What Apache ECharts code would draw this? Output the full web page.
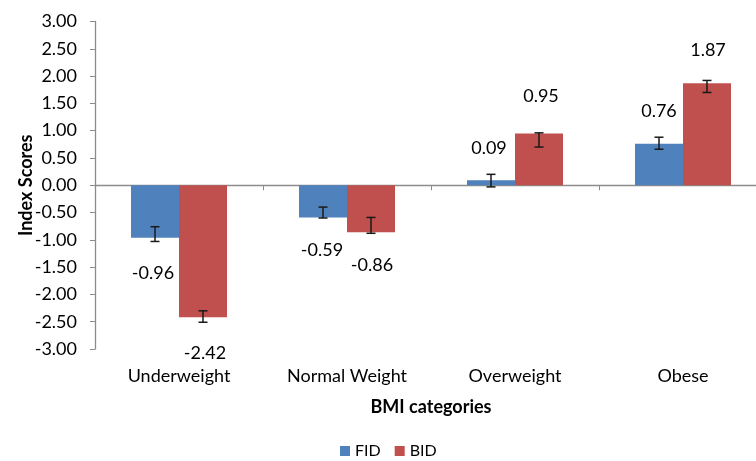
<!DOCTYPE html>
<html>
<head>
<meta charset="utf-8">
<script src="https://cdn.jsdelivr.net/npm/echarts@6/dist/echarts.min.js"></script>
<style>
html,body{margin:0;padding:0;background:#fff;}
#chart{width:756px;height:461px;}
</style>
</head>
<body>
<div id="chart"></div>
<script>
const categories = ['Underweight', 'Normal Weight', 'Overweight', 'Obese'];
const fidValues = [-0.96, -0.59, 0.09, 0.76];
const bidValues = [-2.42, -0.86, 0.95, 1.87];
const fidErrLow = [-1.03, -0.60, -0.03, 0.66];
const fidErrHigh = [-0.76, -0.40, 0.20, 0.88];
const bidErrLow = [-2.51, -0.88, 0.70, 1.70];
const bidErrHigh = [-2.30, -0.59, 0.96, 1.92];
const yTicks = { min: -3, max: 3, interval: 0.5 };

// label fine-tuning (pixels)
const fidLabelOffsets = [[-2, 22], [-1, 19], [-2, -18], [0, -19]];
const bidLabelOffsets = [[2, 22], [1, 19], [2, -23], [1, -19]];

const FONT = 'Lato';
const FS = 18;
const BAR_W = 48;
const BLUE = '#4F81BD';
const RED = '#C0504D';

function barData(values, offsets) {
  return values.map((v, i) => ({
    value: v,
    label: { offset: offsets[i] }
  }));
}

function errData(lows, highs) {
  return lows.map((l, i) => [i, l, highs[i]]);
}

function errRender(shift) {
  return function (params, api) {
    const idx = api.value(0);
    const lo = api.coord([idx, api.value(1)]);
    const hi = api.coord([idx, api.value(2)]);
    const x = lo[0] + shift;
    const cap = 4.5;
    const style = { stroke: '#1a1a1a', lineWidth: 1.5 };
    return {
      type: 'group',
      children: [
        { type: 'line', shape: { x1: x, y1: lo[1], x2: x, y2: hi[1] }, style },
        { type: 'line', shape: { x1: x - cap, y1: lo[1], x2: x + cap, y2: lo[1] }, style },
        { type: 'line', shape: { x1: x - cap, y1: hi[1], x2: x + cap, y2: hi[1] }, style }
      ]
    };
  };
}

const chart = echarts.init(document.getElementById('chart'), null, { renderer: 'canvas' });
const labelStyle = {
  show: true,
  position: 'outside',
  distance: 5,
  fontFamily: FONT,
  fontSize: FS,
  color: '#000',
  formatter: p => p.value.toFixed(2)
};

chart.setOption({
  animation: false,
  backgroundColor: '#fff',
  textStyle: { fontFamily: FONT },
  grid: { left: 95, width: 672, top: 21.5, height: 327.5, containLabel: false, outerBoundsMode: 'none' },
  legend: {
    top: 438,
    left: 335,
    itemWidth: 10,
    itemHeight: 10,
    itemGap: 14,
    icon: 'rect',
    textStyle: { fontFamily: FONT, fontSize: 16, color: '#000' },
    data: ['FID', 'BID']
  },
  xAxis: [
    {
      type: 'category',
      data: categories,
      position: 'bottom',
      axisLine: { show: false, onZero: false },
      axisTick: { show: false },
      axisLabel: { margin: 18, fontFamily: FONT, fontSize: FS, color: '#000' },
      name: 'BMI categories',
      nameLocation: 'middle',
      nameGap: 49,
      nameMoveOverlap: false,
      nameTextStyle: { fontFamily: FONT, fontSize: FS, fontWeight: 'bold', color: '#000' }
    },
    {
      type: 'category',
      data: categories,
      position: 'bottom',
      axisLine: { show: true, onZero: true, lineStyle: { color: '#8c8c8c', width: 1.3 } },
      axisTick: { show: true, length: 5, lineStyle: { color: '#8c8c8c' } },
      axisLabel: { show: false }
    }
  ],
  yAxis: {
    type: 'value',
    min: yTicks.min,
    max: yTicks.max,
    interval: yTicks.interval,
    axisLine: { show: true, lineStyle: { color: '#8c8c8c', width: 1.3 } },
    axisTick: { show: true, length: 5, lineStyle: { color: '#8c8c8c' } },
    splitLine: { show: false },
    axisLabel: {
      margin: 18,
      fontFamily: FONT,
      fontSize: FS,
      color: '#000',
      formatter: v => v.toFixed(2)
    },
    name: 'Index Scores',
    nameLocation: 'middle',
    nameGap: 60,
    nameMoveOverlap: false,
    nameTextStyle: { fontFamily: FONT, fontSize: FS, fontWeight: 'bold', color: '#000' }
  },
  series: [
    {
      name: 'FID',
      type: 'bar',
      xAxisIndex: 0,
      barWidth: BAR_W,
      barGap: '0%',
      itemStyle: { color: BLUE },
      label: labelStyle,
      data: barData(fidValues, fidLabelOffsets)
    },
    {
      name: 'BID',
      type: 'bar',
      xAxisIndex: 0,
      barWidth: BAR_W,
      barGap: '0%',
      itemStyle: { color: RED },
      label: labelStyle,
      data: barData(bidValues, bidLabelOffsets)
    },
    {
      type: 'custom',
      xAxisIndex: 0,
      renderItem: errRender(-BAR_W / 2),
      data: errData(fidErrLow, fidErrHigh),
      z: 10,
      silent: true
    },
    {
      type: 'custom',
      xAxisIndex: 0,
      renderItem: errRender(BAR_W / 2),
      data: errData(bidErrLow, bidErrHigh),
      z: 10,
      silent: true
    }
  ]
});
</script>
</body>
</html>
